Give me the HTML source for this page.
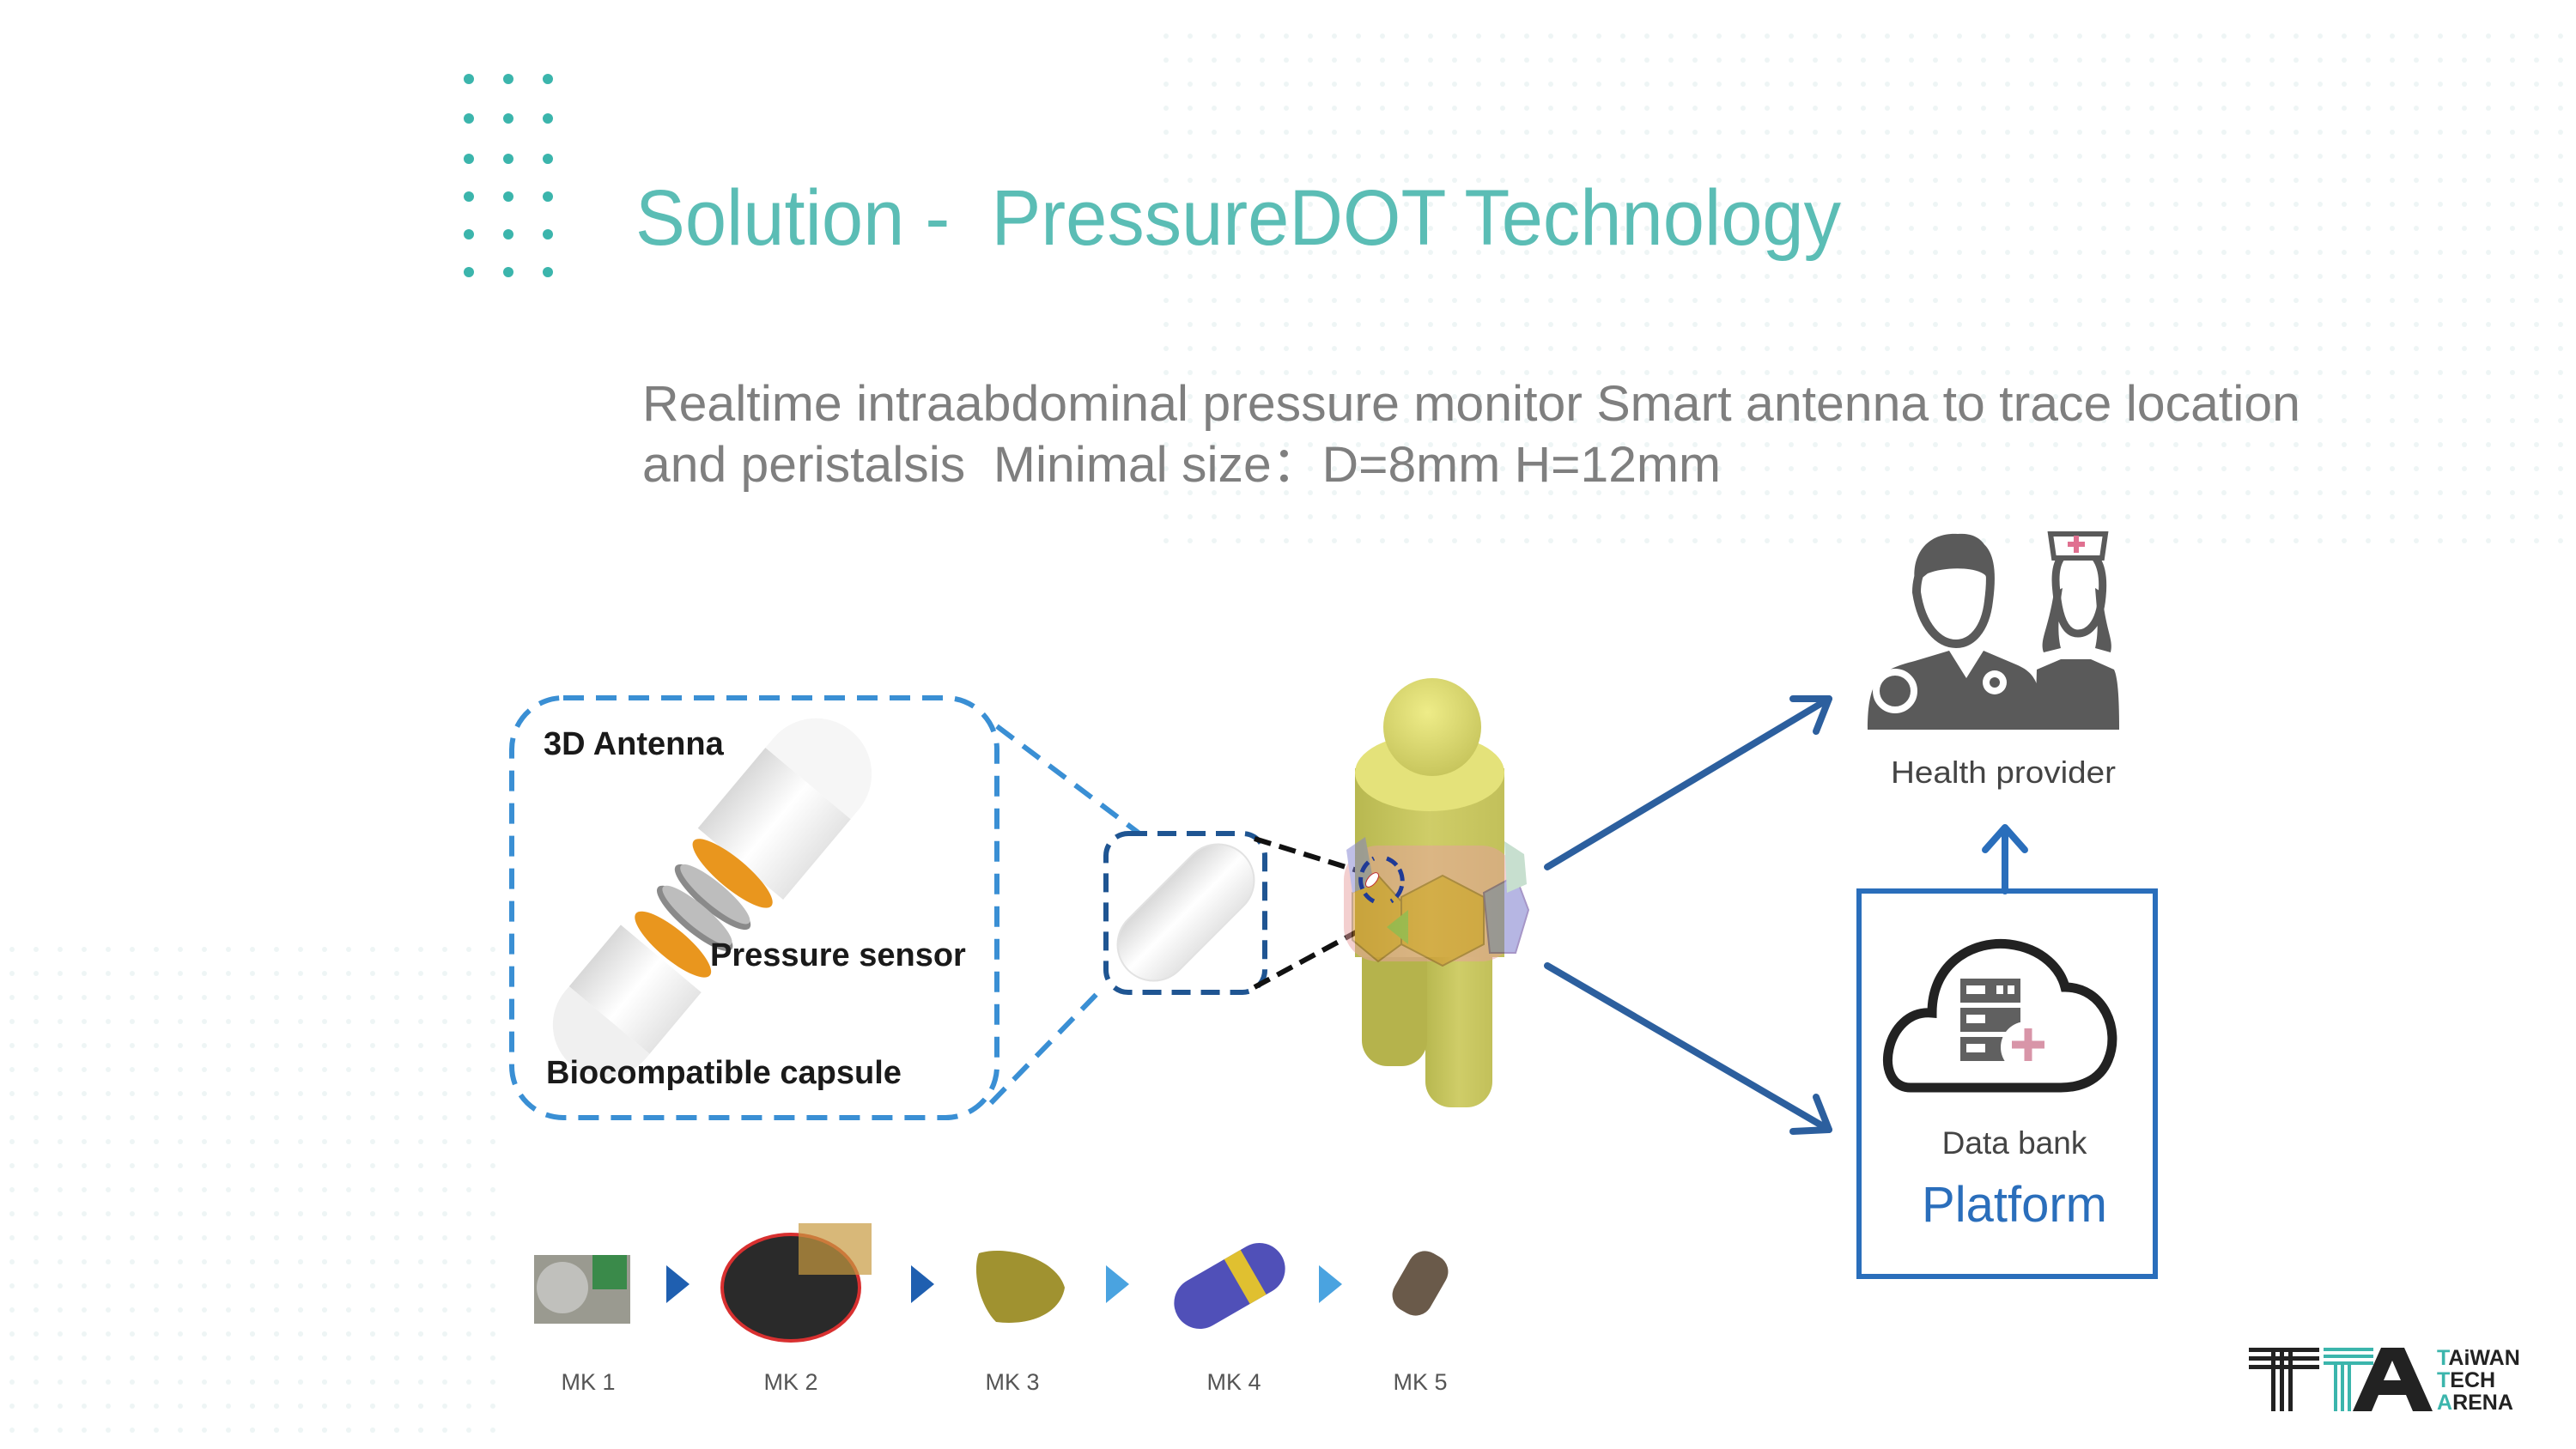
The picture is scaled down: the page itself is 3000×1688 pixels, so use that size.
<!DOCTYPE html>
<html><head><meta charset="utf-8"><style>
html,body{margin:0;padding:0;background:#fff;}
svg{display:block;}
</style></head><body>
<svg width="3000" height="1688" viewBox="0 0 3000 1688" xmlns="http://www.w3.org/2000/svg" font-family="Liberation Sans, sans-serif">
<defs>
<pattern id="dp" x="0" y="0" width="28" height="28" patternUnits="userSpaceOnUse"><circle cx="14" cy="14" r="3" fill="#eef5f5"/></pattern>
<linearGradient id="cap" x1="0" y1="0" x2="1" y2="0"><stop offset="0" stop-color="#d8d8d8"/><stop offset="0.5" stop-color="#ffffff"/><stop offset="1" stop-color="#e4e4e4"/></linearGradient>
<linearGradient id="body" x1="0" y1="0" x2="1" y2="0"><stop offset="0" stop-color="#b8b850"/><stop offset="0.5" stop-color="#cfcd68"/><stop offset="1" stop-color="#c2c05a"/></linearGradient>
<radialGradient id="head" cx="0.45" cy="0.35" r="0.7"><stop offset="0" stop-color="#eeec88"/><stop offset="1" stop-color="#c5c35a"/></radialGradient>
</defs>
<rect x="1340" y="20" width="1660" height="620" fill="url(#dp)"/>
<rect x="0" y="1100" width="580" height="588" fill="url(#dp)"/>
<rect x="270" y="1400" width="240" height="288" fill="url(#dp)"/>
<g fill="#3bb5ac">
<circle cx="546" cy="92" r="6"/><circle cx="592" cy="92" r="6"/><circle cx="638" cy="92" r="6"/>
<circle cx="546" cy="138" r="6"/><circle cx="592" cy="138" r="6"/><circle cx="638" cy="138" r="6"/>
<circle cx="546" cy="185" r="6"/><circle cx="592" cy="185" r="6"/><circle cx="638" cy="185" r="6"/>
<circle cx="546" cy="229" r="6"/><circle cx="592" cy="229" r="6"/><circle cx="638" cy="229" r="6"/>
<circle cx="546" cy="273" r="6"/><circle cx="592" cy="273" r="6"/><circle cx="638" cy="273" r="6"/>
<circle cx="546" cy="317" r="6"/><circle cx="592" cy="317" r="6"/><circle cx="638" cy="317" r="6"/>
</g>
<text x="740" y="285" font-size="92" fill="#5bbdb5" textLength="1404" lengthAdjust="spacingAndGlyphs" xml:space="preserve">Solution -  PressureDOT Technology</text>
<text x="748" y="490" font-size="58" fill="#7f7f7f" textLength="1931" lengthAdjust="spacingAndGlyphs">Realtime intraabdominal pressure monitor Smart antenna to trace location</text>
<text x="748" y="561" font-size="58" fill="#7f7f7f" textLength="1256" lengthAdjust="spacingAndGlyphs" xml:space="preserve">and peristalsis  Minimal size：D=8mm H=12mm</text>

<rect x="596" y="813" width="565" height="489" rx="60" fill="none" stroke="#3a8fd4" stroke-width="6" stroke-dasharray="24 14"/>
<line x1="1161" y1="846" x2="1327" y2="971" stroke="#3a8fd4" stroke-width="6" stroke-dasharray="24 14"/>
<line x1="1154" y1="1285" x2="1285" y2="1150" stroke="#3a8fd4" stroke-width="6" stroke-dasharray="24 14"/>
<!-- exploded capsule -->
<g transform="translate(830,1045) rotate(40) scale(0.72)">
<rect x="-90" y="-240" width="180" height="170" fill="url(#cap)"/>
<path d="M-90,-240 L-90,-260 A90,90 0 0 1 90,-260 L90,-240 Z" fill="#f6f6f6"/>
<ellipse cx="0" cy="-50" rx="82" ry="24" fill="#e9961e"/>
<ellipse cx="0" cy="0" rx="78" ry="22" fill="#8a8a8a"/><ellipse cx="0" cy="-6" rx="72" ry="18" fill="#bdbdbd"/>
<ellipse cx="0" cy="45" rx="78" ry="22" fill="#8a8a8a"/><ellipse cx="0" cy="39" rx="72" ry="18" fill="#bdbdbd"/>
<ellipse cx="0" cy="100" rx="78" ry="24" fill="#e9961e"/>
<rect x="-85" y="130" width="170" height="130" fill="url(#cap)"/>
<path d="M-85,260 L-85,270 A85,85 0 0 0 85,270 L85,260 Z" fill="#f0f0f0"/>
</g>
<text x="633" y="879" font-size="38" font-weight="bold" fill="#1a1a1a">3D Antenna</text>
<text x="827" y="1125" font-size="38" font-weight="bold" fill="#1a1a1a">Pressure sensor</text>
<text x="636" y="1262" font-size="38" font-weight="bold" fill="#1a1a1a">Biocompatible capsule</text>

<rect x="1288" y="971" width="185" height="185" rx="26" fill="none" stroke="#1f5592" stroke-width="6" stroke-dasharray="22 12"/>
<g transform="translate(1381,1063) rotate(45)">
<rect x="-42" y="-95" width="84" height="190" rx="42" fill="url(#cap)" stroke="#e2e2e2" stroke-width="2"/>
</g>
<line x1="1461" y1="977" x2="1590" y2="1017" stroke="#111" stroke-width="6" stroke-dasharray="20 10"/>
<line x1="1461" y1="1150" x2="1596" y2="1077" stroke="#111" stroke-width="6" stroke-dasharray="20 10"/>

<!-- human -->
<rect x="1660" y="1060" width="78" height="230" rx="30" fill="url(#body)"/>
<rect x="1586" y="1060" width="76" height="182" rx="30" fill="#b5b34c"/>
<rect x="1578" y="895" width="174" height="220" fill="url(#body)"/>
<ellipse cx="1665" cy="900" rx="87" ry="45" fill="#e4e27a"/>
<circle cx="1668" cy="847" r="57" fill="url(#head)"/>
<g opacity="0.5">
<rect x="1565" y="985" width="200" height="135" rx="40" fill="#e8a0a0"/>
<polygon points="1632,1045 1680,1020 1728,1045 1728,1100 1680,1125 1632,1100" fill="#d8902a" stroke="#8a5020" stroke-width="2"/>
<polygon points="1728,1040 1765,1020 1780,1060 1765,1110 1735,1110" fill="#7070c8" stroke="#503090" stroke-width="2"/>
<polygon points="1575,1040 1605,1020 1632,1050 1632,1100 1605,1120 1575,1095" fill="#d8902a" stroke="#8a5020" stroke-width="2"/>
<polygon points="1568,990 1590,975 1600,1030 1575,1040" fill="#8080d0"/>
<polygon points="1752,980 1775,995 1778,1030 1755,1040" fill="#90c0a0"/>
<polygon points="1615,1080 1640,1060 1640,1100" fill="#70b040"/>
</g>
<path d="M1600,1050 A28,28 0 0 1 1600,1000" fill="none" stroke="#1f3a96" stroke-width="5" stroke-dasharray="14 6"/>
<path d="M1615,1000 A28,28 0 0 1 1620,1050" fill="none" stroke="#1f3a96" stroke-width="5" stroke-dasharray="14 6"/>
<ellipse cx="1598" cy="1025" rx="5" ry="10" transform="rotate(40 1598 1025)" fill="#fff" stroke="#c03030" stroke-width="1"/>

<g stroke="#2c5f9e" stroke-width="8" fill="none" stroke-linecap="round" stroke-linejoin="round">
<line x1="1802" y1="1010" x2="2130" y2="814"/>
<polyline points="2088,814 2130,814 2115,852"/>
<line x1="1802" y1="1125" x2="2130" y2="1316"/>
<polyline points="2115,1278 2130,1316 2088,1318"/>
</g>

<g fill="#5a5a5a">
<path d="M2232,690 C2232,640 2280,628 2295,632 C2320,636 2320,670 2316,700 C2312,735 2295,750 2278,750 C2258,750 2238,730 2232,690 Z" fill="#fff" stroke="#5a5a5a" stroke-width="10"/>
<path d="M2230,680 C2225,640 2250,620 2280,622 C2310,620 2322,640 2320,685 L2312,670 C2300,660 2265,660 2245,668 Z"/>
<path d="M2175,850 C2175,790 2190,780 2230,770 L2270,758 L2290,790 L2310,758 L2350,775 C2372,785 2378,800 2378,850 Z"/>
<circle cx="2207" cy="805" r="22" fill="none" stroke="#fff" stroke-width="8"/>
<circle cx="2323" cy="795" r="14" fill="#fff"/><circle cx="2323" cy="795" r="6"/>
<path d="M2370,850 L2372,780 L2400,768 L2435,768 L2462,780 C2467,790 2468,820 2468,850 Z"/>
<path d="M2395,690 C2390,650 2405,640 2420,640 C2438,640 2452,655 2448,695 C2445,730 2430,738 2420,738 C2405,738 2398,720 2395,690 Z" fill="#fff" stroke="#5a5a5a" stroke-width="9"/>
<path d="M2392,690 C2385,735 2375,745 2380,760 L2400,755 C2395,735 2398,710 2402,685 Z"/>
<path d="M2448,690 C2452,735 2462,745 2458,760 L2440,755 C2445,735 2442,710 2440,685 Z"/>
<path d="M2388,622 L2452,622 L2448,650 L2392,650 Z" fill="#fff" stroke="#5a5a5a" stroke-width="6"/>
</g>
<path d="M2418,624 v20 M2408,634 h20" stroke="#e07090" stroke-width="6"/>
<text x="2333" y="912" font-size="36" fill="#444" text-anchor="middle" textLength="262" lengthAdjust="spacingAndGlyphs">Health provider</text>

<g stroke="#2a6ebb" stroke-width="8" fill="none" stroke-linecap="round" stroke-linejoin="round">
<line x1="2335" y1="1038" x2="2335" y2="966"/>
<polyline points="2312,990 2335,964 2358,990"/>
</g>
<rect x="2165" y="1038" width="345" height="449" fill="none" stroke="#2a6ebb" stroke-width="6"/>
<path d="M2225,1267 C2180,1267 2195,1175 2250,1180 C2250,1120 2300,1095 2340,1100 C2380,1105 2400,1130 2405,1150 C2450,1150 2470,1200 2455,1235 C2445,1260 2420,1267 2400,1267 Z" fill="#fff" stroke="#222" stroke-width="11"/>
<g fill="#606060">
<rect x="2283" y="1140" width="70" height="28"/><rect x="2283" y="1174" width="70" height="28"/><rect x="2283" y="1208" width="70" height="28"/>
</g>
<g fill="#fff"><rect x="2290" y="1148" width="22" height="10"/><rect x="2325" y="1148" width="8" height="10"/><rect x="2338" y="1148" width="8" height="10"/><rect x="2290" y="1182" width="22" height="10"/><rect x="2290" y="1216" width="22" height="10"/></g>
<circle cx="2360" cy="1220" r="30" fill="#fff"/>
<path d="M2362,1198 v38 M2343,1217 h38" stroke="#d895a8" stroke-width="9"/>
<text x="2346" y="1344" font-size="37" fill="#444" text-anchor="middle">Data bank</text>
<text x="2346" y="1423" font-size="58" fill="#2a6ebb" text-anchor="middle">Platform</text>

<g>
<rect x="622" y="1462" width="112" height="80" fill="#9a9a90"/><circle cx="655" cy="1500" r="30" fill="#c0c0bc"/><rect x="690" y="1462" width="40" height="40" fill="#3a8a4a"/>
<ellipse cx="921" cy="1500" rx="80" ry="62" fill="#2a2a2a" stroke="#d83030" stroke-width="4"/><rect x="930" y="1425" width="85" height="60" fill="#c89a40" opacity="0.7"/>
<path d="M1140,1460 C1170,1450 1230,1465 1240,1500 C1235,1530 1200,1545 1160,1540 C1140,1520 1132,1480 1140,1460 Z" fill="#a09230"/>
<g transform="translate(1432,1498) rotate(-30)"><rect x="-70" y="-30" width="140" height="60" rx="30" fill="#5050b8"/><rect x="10" y="-30" width="22" height="60" fill="#e0c030"/></g>
<g transform="translate(1654,1495) rotate(-60)"><rect x="-38" y="-24" width="76" height="48" rx="20" fill="#6a5a4a"/></g>
</g>
<polygon points="776,1474 803,1496 776,1518" fill="#1f5fb0"/>
<polygon points="1061,1474 1088,1496 1061,1518" fill="#1f5fb0"/>
<polygon points="1288,1474 1315,1496 1288,1518" fill="#4aa3e0"/>
<polygon points="1536,1474 1563,1496 1536,1518" fill="#4aa3e0"/>
<g font-size="27" fill="#555" text-anchor="middle">
<text x="685" y="1619">MK 1</text><text x="921" y="1619">MK 2</text><text x="1179" y="1619">MK 3</text><text x="1437" y="1619">MK 4</text><text x="1654" y="1619">MK 5</text>
</g>

<g fill="#222">
<rect x="2619" y="1570" width="82" height="5"/><rect x="2619" y="1580" width="82" height="5"/><rect x="2619" y="1590" width="82" height="5"/>
<rect x="2645" y="1570" width="5" height="74"/><rect x="2655" y="1570" width="5" height="74"/><rect x="2665" y="1570" width="5" height="74"/>
<polygon points="2740,1644 2773,1570 2800,1570 2833,1644 2810,1644 2802,1625 2770,1625 2762,1644"/>
</g>
<polygon points="2776,1608 2786,1585 2796,1608" fill="#fff"/>
<g fill="#3bb5ac">
<rect x="2706" y="1570" width="58" height="4"/><rect x="2706" y="1578" width="58" height="4"/><rect x="2706" y="1586" width="58" height="4"/>
<rect x="2718" y="1590" width="4" height="54"/><rect x="2726" y="1590" width="4" height="54"/><rect x="2734" y="1590" width="4" height="54"/>
</g>
<g font-size="25" fill="#222" font-weight="bold">
<text x="2838" y="1590"><tspan fill="#3bb5ac">T</tspan>AiWAN</text>
<text x="2838" y="1616"><tspan fill="#3bb5ac">T</tspan>ECH</text>
<text x="2838" y="1642"><tspan fill="#3bb5ac">A</tspan>RENA</text>
</g>
</svg>
</body></html>
